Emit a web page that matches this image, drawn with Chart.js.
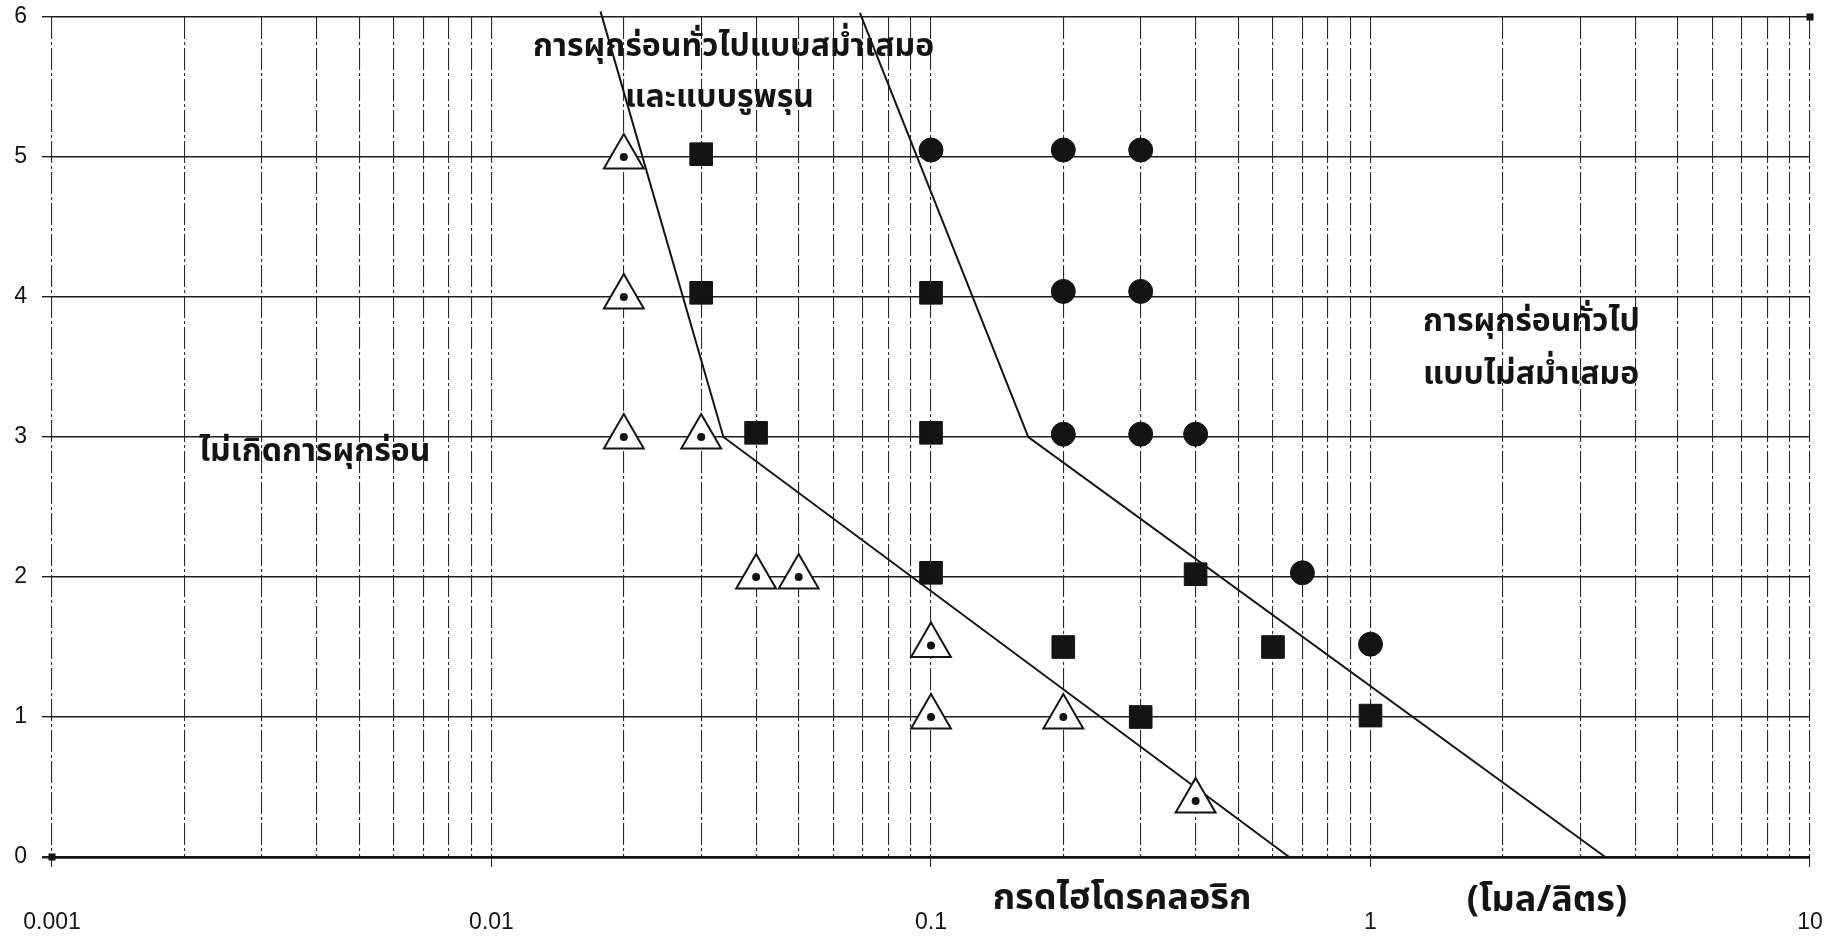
<!DOCTYPE html>
<html lang="th">
<head>
<meta charset="utf-8">
<title>การผุกร่อนกับกรดไฮโดรคลอริก</title>
<script src="https://cdn.jsdelivr.net/npm/chart.js@4.4.1/dist/chart.umd.min.js"></script>
<style>
  html, body { margin: 0; padding: 0; background: #fff; }
  #wrap { width: 1838px; height: 941px; position: relative; }
</style>
</head>
<body>
<div id="wrap"><canvas id="chart"></canvas></div>
<script>
// Hydrochloric acid concentration (mol/L) on the x axis, second value on the y axis.

// No corrosion (open triangles)
const noneX = [0.02, 0.02, 0.02, 0.03, 0.04, 0.05, 0.1, 0.1, 0.2, 0.4];
const noneY = [5, 4, 3, 3, 2, 2, 1.51, 1, 1, 0.4];

// Uniform general corrosion and pitting (filled squares)
const uniformX = [0.03, 0.03, 0.04, 0.1, 0.1, 0.1, 0.2, 0.3, 0.4, 0.6, 1];
const uniformY = [5.02, 4.03, 3.03, 4.03, 3.03, 2.03, 1.5, 1, 2.02, 1.5, 1.01];

// Non-uniform general corrosion (filled circles)
const nonUniformX = [0.1, 0.2, 0.3, 0.2, 0.3, 0.2, 0.3, 0.4, 0.7, 1];
const nonUniformY = [5.05, 5.05, 5.05, 4.04, 4.04, 3.02, 3.02, 3.02, 2.03, 1.52];

// Boundary between no corrosion and uniform corrosion
const boundaryAX = [0.0177, 0.0337, 0.653];
const boundaryAY = [6.04, 3, 0];

// Boundary between uniform and non-uniform corrosion
const boundaryBX = [0.0689, 0.1665, 3.42];
const boundaryBY = [6.03, 3, 0];

// Range anchor points at the plot corners
const cornerX = [0.001, 10];
const cornerY = [0, 6];

// Axis ticks
const xMajorTicks = [0.001, 0.01, 0.1, 1, 10];
const xTickLabels = ['0.001', '0.01', '0.1', '1', '10'];
const xMinorSteps = [2, 3, 4, 5, 6, 7, 8, 9];
const yTicks = [0, 1, 2, 3, 4, 5, 6];

// Text placed on the plot
const regionLabels = [
  { text: 'การผุกร่อนทั่วไปแบบสม่ำเสมอ', x: 533, y: 50 },
  { text: 'และแบบรูพรุน', x: 625, y: 101 },
  { text: 'ไม่เกิดการผุกร่อน', x: 199, y: 455 },
  { text: 'การผุกร่อนทั่วไป', x: 1423, y: 325 },
  { text: 'แบบไม่สม่ำเสมอ', x: 1423, y: 378 }
];
const xTitle = 'กรดไฮโดรคลอริก';
const xUnit = '(โมล/ลิตร)';

const pts = (xs, ys) => xs.map((x, i) => ({ x: x, y: ys[i] }));

const xGridValues = [];
xMajorTicks.forEach((m, i) => {
  xGridValues.push(m);
  if (i < xMajorTicks.length - 1) xMinorSteps.forEach(s => xGridValues.push(+(m * s).toPrecision(6)));
});
const majorLabel = new Map(xMajorTicks.map((v, i) => [v, xTickLabels[i]]));

const INK = '#141414';
const THAI_FONT = '"Noto Sans Thai", "Noto Sans", "DejaVu Sans", sans-serif';
const NUM_FONT = '"Liberation Sans", Arial, sans-serif';

const textPlugin = {
  id: 'regionText',
  beforeDatasetsDraw(chart) {
    const ctx = chart.ctx;
    ctx.save();
    ctx.fillStyle = INK;
    ctx.textBaseline = 'middle';
    ctx.textAlign = 'left';
    ctx.font = 'bold 32px ' + THAI_FONT;
    regionLabels.forEach(l => ctx.fillText(l.text, l.x, l.y));
    ctx.textAlign = 'center';
    ctx.font = 'bold 36px ' + THAI_FONT;
    ctx.fillText(xTitle, 1122, 902);
    ctx.fillText(xUnit, 1547, 904);
    ctx.restore();
  }
};

new Chart(document.getElementById('chart'), {
  type: 'scatter',
  data: {
    datasets: [
      {
        label: 'dots',
        data: pts(noneX, noneY),
        pointStyle: 'circle',
        pointRadius: 4,
        pointBackgroundColor: INK,
        pointBorderWidth: 0
      },
      {
        label: 'ไม่เกิดการผุกร่อน',
        data: pts(noneX, noneY),
        pointStyle: 'triangle',
        pointRadius: 23,
        pointBackgroundColor: '#ffffff',
        pointBorderColor: INK,
        pointBorderWidth: 2
      },
      {
        label: 'การผุกร่อนทั่วไปแบบสม่ำเสมอและแบบรูพรุน',
        data: pts(uniformX, uniformY),
        pointStyle: 'rect',
        pointRadius: 16,
        pointBackgroundColor: INK,
        pointBorderColor: INK,
        pointBorderWidth: 1
      },
      {
        label: 'การผุกร่อนทั่วไปแบบไม่สม่ำเสมอ',
        data: pts(nonUniformX, nonUniformY),
        pointStyle: 'circle',
        pointRadius: 12,
        pointBackgroundColor: INK,
        pointBorderColor: INK,
        pointBorderWidth: 1
      },
      {
        label: 'corners',
        data: pts(cornerX, cornerY),
        pointStyle: 'rect',
        pointRadius: 5,
        pointBackgroundColor: INK,
        pointBorderWidth: 0,
        clip: false
      },
      {
        label: 'boundary A',
        data: pts(boundaryAX, boundaryAY),
        showLine: true,
        pointRadius: 0,
        borderColor: INK,
        borderWidth: 2,
        clip: false
      },
      {
        label: 'boundary B',
        data: pts(boundaryBX, boundaryBY),
        showLine: true,
        pointRadius: 0,
        borderColor: INK,
        borderWidth: 2,
        clip: false
      }
    ]
  },
  options: {
    responsive: true,
    maintainAspectRatio: false,
    animation: false,
    events: [],
    layout: { autoPadding: false, padding: { left: 0, right: 28, top: 17, bottom: 0 } },
    plugins: {
      legend: { display: false },
      tooltip: { enabled: false },
      title: { display: false }
    },
    scales: {
      x: {
        type: 'logarithmic',
        min: 0.001,
        max: 10,
        afterBuildTicks(scale) { scale.ticks = xGridValues.map(v => ({ value: v, major: majorLabel.has(v) })); },
        afterFit(scale) {
          scale.height = 84;
          scale.paddingLeft = 0;
          scale.paddingRight = 0;
        },
        ticks: {
          autoSkip: false,
          maxRotation: 0,
          minRotation: 0,
          padding: 42,
          color: INK,
          font: { family: NUM_FONT, size: 23 },
          callback: (v) => majorLabel.has(v) ? majorLabel.get(v) : ''
        },
        grid: {
          color: '#2a2a2a',
          lineWidth: 1.1,
          tickLength: 10,
          tickColor: (c) => (c.tick && majorLabel.has(c.tick.value)) ? '#2a2a2a' : 'rgba(0,0,0,0)'
        },
        border: { display: true, color: INK, width: 2.5, dash: [22, 3, 3, 3] }
      },
      y: {
        min: 0,
        max: 6,
        afterBuildTicks(scale) { scale.ticks = yTicks.map(v => ({ value: v })); },
        afterFit(scale) {
          scale.width = 52;
          scale.paddingTop = 0;
          scale.paddingBottom = 0;
        },
        ticks: {
          padding: 15,
          color: INK,
          font: { family: NUM_FONT, size: 23 }
        },
        grid: {
          color: '#1e1e1e',
          lineWidth: (c) => c.index === 0 ? 2.5 : 1.4,
          tickLength: 10,
          tickColor: '#1e1e1e'
        },
        border: { display: false }
      }
    }
  },
  plugins: [textPlugin]
});
</script>
</body>
</html>
